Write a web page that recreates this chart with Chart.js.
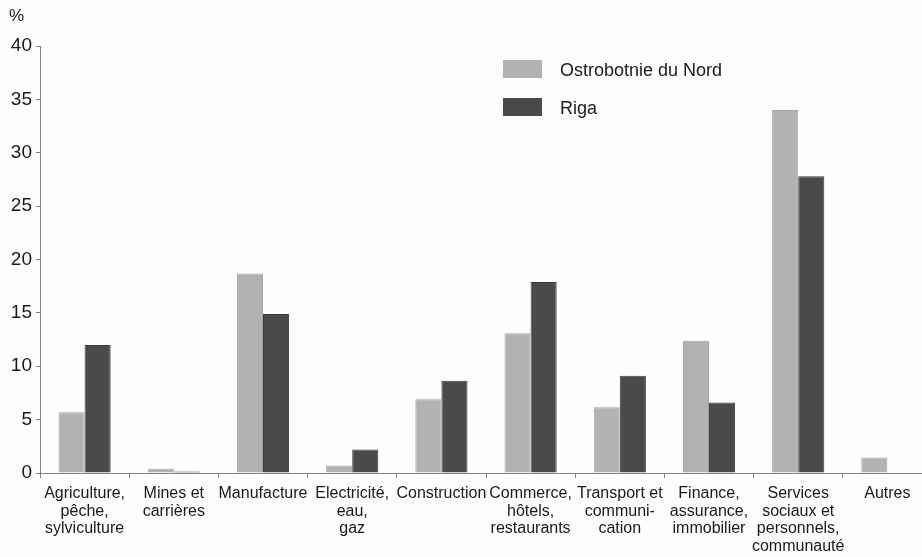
<!DOCTYPE html>
<html>
<head>
<meta charset="utf-8">
<script src="https://cdn.jsdelivr.net/npm/chart.js@4"></script>
<style>
  html, body { margin: 0; padding: 0; background: #fdfdfd; overflow: hidden; }
  #wrap { width: 932px; height: 557px; position: relative; }
</style>
</head>
<body>
<div id="wrap"><canvas id="bar-chart"></canvas></div>
<script>
// categories (multi-line labels)
const categories = [
  ['Agriculture,', 'pêche,', 'sylviculture'],
  ['Mines et', 'carrières'],
  'Manufacture',
  ['Electricité,', 'eau,', 'gaz'],
  'Construction',
  ['Commerce,', 'hôtels,', 'restaurants'],
  ['Transport et', 'communi-', 'cation'],
  ['Finance,', 'assurance,', 'immobilier'],
  ['Services', 'sociaux et', 'personnels,', 'communauté'],
  'Autres'
];
const seriesNames = ['Ostrobotnie du Nord', 'Riga'];
const ostrobotnie = [5.7, 0.4, 18.7, 0.7, 6.9, 13.1, 6.15, 12.4, 34.0, 1.45];
const riga = [12.0, 0.15, 14.9, 2.2, 8.65, 17.9, 9.1, 6.6, 27.8, 0];
const yTicks = [0, 5, 10, 15, 20, 25, 30, 35, 40];

const lightGrey = '#b2b2b2';
const darkGrey = '#4a4a4a';
const axisColor = '#808080';
const textColor = '#1a1a1a';

// legend + "%" drawn by hand
const extras = {
  id: 'extras',
  afterDraw(chart) {
    const c = chart.ctx;
    c.save();
    c.fillStyle = textColor;
    c.textBaseline = 'middle';
    c.font = '17px "Liberation Sans", Arial, sans-serif';
    c.fillText('%', 9, 16);
    c.font = '18px "Liberation Sans", Arial, sans-serif';
    const cols = [lightGrey, darkGrey];
    for (let i = 0; i < seriesNames.length; i++) {
      const y = 60 + i * 38;
      c.fillStyle = cols[i];
      c.fillRect(503, y, 39, 18);
      c.fillStyle = textColor;
      c.fillText(seriesNames[i], 560, y + 11);
    }
    c.restore();
  }
};

new Chart(document.getElementById('bar-chart'), {
  type: 'bar',
  data: {
    labels: categories,
    datasets: [{
      label: seriesNames[0],
      data: ostrobotnie,
      backgroundColor: lightGrey,
      borderColor: '#a4a4a4',
      borderWidth: 1
    }, {
      label: seriesNames[1],
      data: riga,
      backgroundColor: darkGrey,
      borderColor: '#3c3c3c',
      borderWidth: 1
    }]
  },
  options: {
    responsive: true,
    maintainAspectRatio: false,
    animation: false,
    datasets: { bar: { categoryPercentage: 0.585, barPercentage: 1 } },
    layout: { padding: { top: 46, right: 0, bottom: 0, left: 0 } },
    plugins: { legend: { display: false }, tooltip: { enabled: false } },
    scales: {
      x: {
        offset: true,
        grid: { display: true, offset: true, drawOnChartArea: false, color: axisColor, tickLength: 5 },
        border: { color: axisColor, width: 1 },
        ticks: {
          autoSkip: false, maxRotation: 0, padding: 7,
          color: textColor,
          font: { family: '"Liberation Sans", Arial, sans-serif', size: 16, lineHeight: 1.1 }
        },
        afterFit(scale) { scale.height = 84; }
      },
      y: {
        min: 0, max: 40,
        afterBuildTicks(scale) { scale.ticks = yTicks.map(v => ({ value: v })); },
        grid: { display: true, drawOnChartArea: false, color: axisColor, tickLength: 4 },
        border: { color: axisColor, width: 1 },
        ticks: {
          padding: 4, color: textColor,
          font: { family: '"Liberation Sans", Arial, sans-serif', size: 19 }
        },
        afterFit(scale) { scale.width = 40; }
      }
    }
  },
  plugins: [extras]
});
</script>
</body>
</html>
